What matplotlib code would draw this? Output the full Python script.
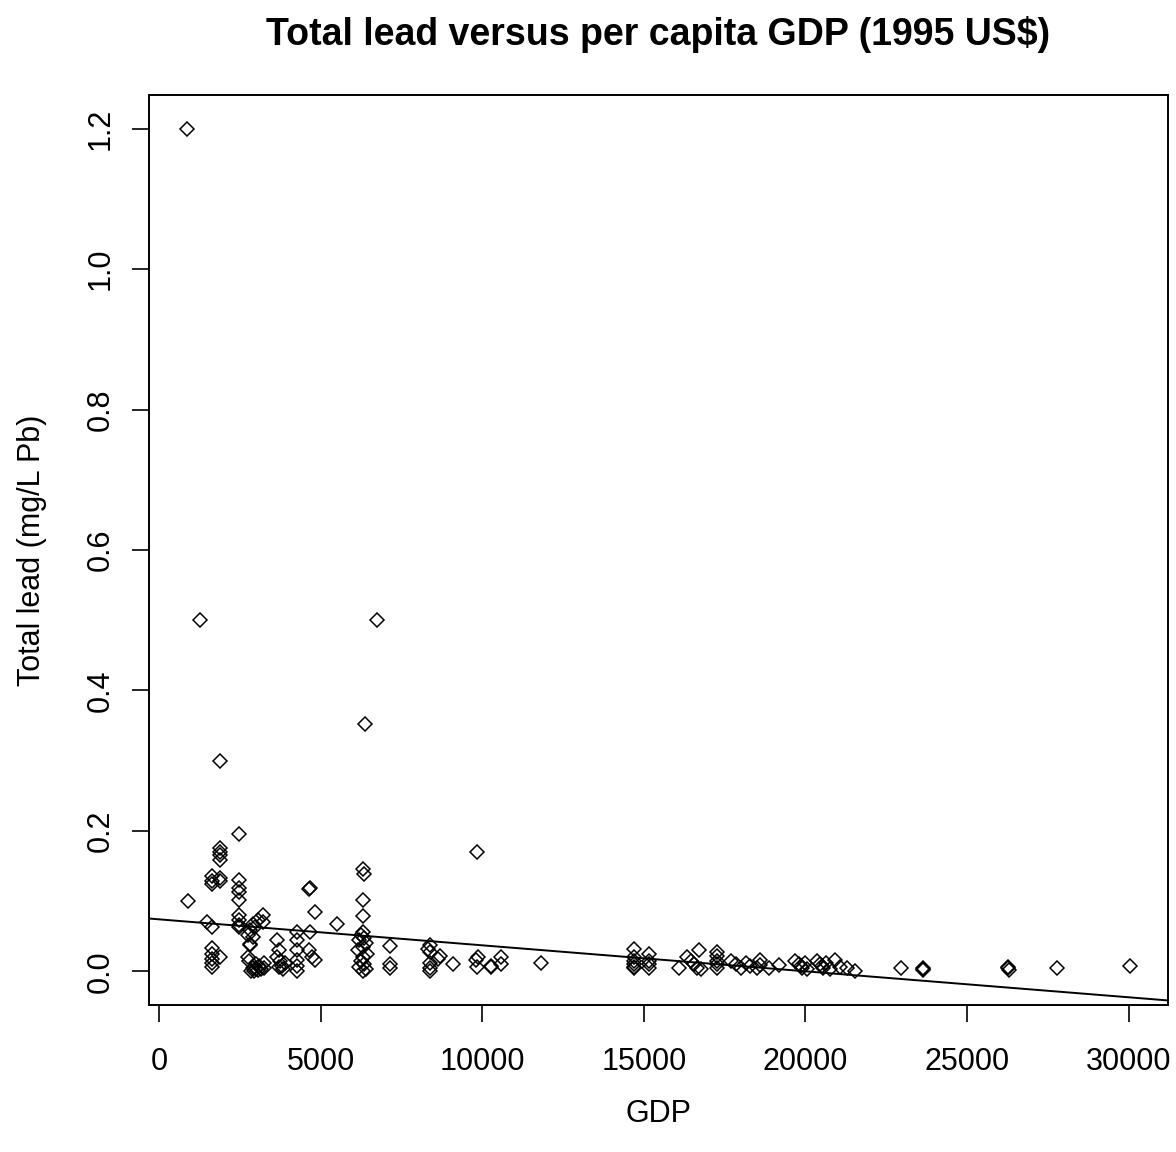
import matplotlib.pyplot as plt
import numpy as np

plt.rcParams["font.family"] = ["Liberation Sans", "DejaVu Sans"]

# per capita GDP (1995 US$) and total lead (mg/L Pb)
gdp = [
    860, 1265, 6760, 1880, 6360, 2490, 9850, 895,
    1880, 1880, 1880, 1880, 1880, 1880, 1880,
    1630, 1630, 1630, 1500, 1630,
    1630, 1630, 1630, 1630, 1630,
    2490, 2490, 2490, 2490, 2490, 2490, 2490, 2490,
    2770, 2810, 2920, 2970, 3080, 3230, 3230, 2820, 2920, 2820,
    2800, 2900, 2950, 3000, 3050, 3100, 3150, 2850, 3000, 3250, 3250, 2750,
    3640, 3700, 3650, 3750, 3800, 3850, 3700, 3900,
    4260, 4260, 4260, 4260, 4260, 4260,
    4670, 4640, 4750, 4830, 4650, 4680, 4830, 5510,
    6320, 6340, 6320, 6320,
    6300, 6250, 6350, 6200, 6400, 6300, 6150, 6450, 6300, 6250, 6350, 6200, 6400, 6300,
    7140, 7140, 7140,
    8380, 8330, 8400, 8680, 8630, 8380, 8400, 8380, 9090,
    9820, 9850, 9870, 10280, 10280, 10590, 10590, 11820,
    14700, 14700, 14700, 14700, 14700, 14700,
    15170, 15170, 15170, 15170, 16090,
    16350, 16450, 16550, 16650, 16760, 16710,
    17270, 17270, 17270, 17270, 17270,
    17690, 17850, 18000, 18150, 18300, 18510, 18610, 18610, 18870, 19180,
    19690, 19800, 19900, 20000, 20050, 19850,
    20360, 20450, 20550, 20650, 20770, 20500,
    20930, 21080, 21280, 21540,
    22950, 23630, 23630, 23650, 26280, 26280, 26300, 27770, 30050,
]
lead = [
    1.2, 0.5, 0.5, 0.30, 0.352, 0.196, 0.17, 0.10,
    0.176, 0.170, 0.165, 0.158, 0.133, 0.128, 0.02,
    0.135, 0.128, 0.125, 0.070, 0.063,
    0.033, 0.025, 0.018, 0.012, 0.006,
    0.13, 0.113, 0.101, 0.08, 0.073, 0.063, 0.066, 0.119,
    0.051, 0.039, 0.068, 0.063, 0.073, 0.08, 0.07, 0.059, 0.049, 0.037,
    0.015, 0.005, 0.0, 0.01, 0.002, 0.008, 0.003, 0.0, 0.003, 0.012, 0.004, 0.02,
    0.044, 0.03, 0.02, 0.015, 0.008, 0.003, 0.006, 0.012,
    0.056, 0.044, 0.03, 0.016, 0.008, 0.0,
    0.056, 0.03, 0.02, 0.016, 0.117, 0.118, 0.085, 0.068,
    0.145, 0.139, 0.101, 0.079,
    0.056, 0.052, 0.048, 0.044, 0.04, 0.035, 0.03, 0.025, 0.02, 0.015, 0.01, 0.006, 0.003, 0.0,
    0.036, 0.011, 0.004,
    0.037, 0.032, 0.028, 0.022, 0.018, 0.012, 0.005, 0.001, 0.01,
    0.016, 0.006, 0.02, 0.008, 0.006, 0.02, 0.011, 0.012,
    0.032, 0.02, 0.015, 0.01, 0.006, 0.004,
    0.025, 0.015, 0.01, 0.005, 0.004,
    0.02, 0.015, 0.01, 0.005, 0.003, 0.03,
    0.027, 0.022, 0.015, 0.01, 0.004,
    0.015, 0.01, 0.005, 0.012, 0.008, 0.004, 0.016, 0.009, 0.004, 0.009,
    0.015, 0.01, 0.005, 0.012, 0.003, 0.008,
    0.015, 0.01, 0.005, 0.012, 0.003, 0.008,
    0.016, 0.006, 0.004, 0.001,
    0.004, 0.004, 0.003, 0.002, 0.006, 0.004, 0.002, 0.004, 0.007,
]

# least squares line as drawn on the chart
intercept = 0.074
slope = -3.7e-6

x_ticks = [0, 5000, 10000, 15000, 20000, 25000, 30000]
y_ticks = [0.0, 0.2, 0.4, 0.6, 0.8, 1.0, 1.2]

fig = plt.figure(figsize=(11.76, 11.52), dpi=100)
ax = fig.add_axes([0.1267, 0.1276, 0.8665, 0.79])

ax.plot(gdp, lead, linestyle="none", marker="D", markersize=7,
        markerfacecolor="none", markeredgecolor="black", markeredgewidth=1.1)
ax.axline((0, intercept), slope=slope, color="black", linewidth=1.4)

xr = max(gdp) - min(gdp)
yr = max(lead) - min(lead)
ax.set_xlim(min(gdp) - 0.04 * xr, max(gdp) + 0.04 * xr)
ax.set_ylim(min(lead) - 0.04 * yr, max(lead) + 0.04 * yr)

ax.set_xticks(x_ticks)
ax.set_xticklabels([str(t) for t in x_ticks])
ax.set_yticks(y_ticks)
ax.set_yticklabels([f"{t:.1f}" for t in y_ticks], rotation=90, va="center")

ax.tick_params(direction="out", length=12, width=1.2, labelsize=22,
               colors="black")
ax.tick_params(axis="x", pad=18)
ax.tick_params(axis="y", pad=12)
for s in ax.spines.values():
    s.set_linewidth(1.4)

ax.set_title("Total lead versus per capita GDP (1995 US$)", fontsize=27,
             fontweight="bold", pad=36)
ax.set_xlabel("GDP", fontsize=22, labelpad=16)
ax.set_ylabel("Total lead (mg/L Pb)", fontsize=22, labelpad=28)

fig.savefig("out.png", dpi=100)
